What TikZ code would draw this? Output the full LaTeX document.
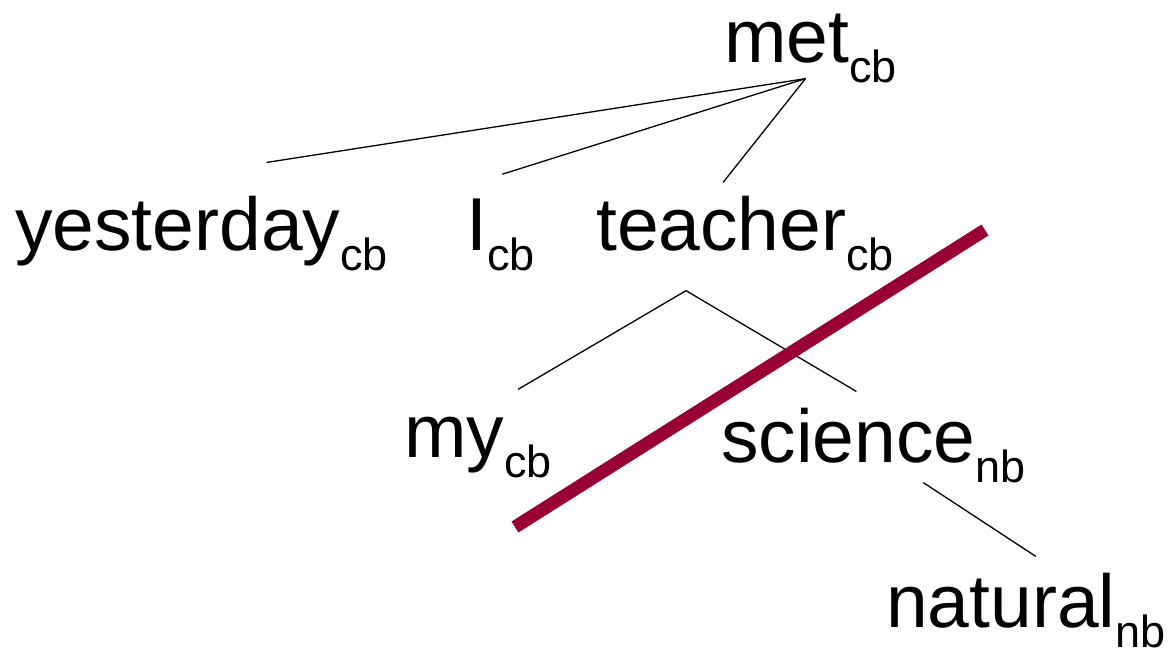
\documentclass[tikz,border=0pt]{standalone}
\usepackage{fontspec}
\setmainfont{Liberation Sans}
\usepackage{xcolor}
\usepackage{tikz}
\definecolor{cutred}{RGB}{153,0,51}
\newcommand*{\depword}[2]{#1\raisebox{-20pt}{\fontsize{45}{48}\selectfont #2}}
\tikzset{word/.style={anchor=base west,inner sep=0pt,font=\fontsize{75}{80}\selectfont},
  dep/.style={line width=1.3pt}}

\begin{document}
\begin{tikzpicture}[x=1pt,y=-1pt]
\useasboundingbox(0,0)rectangle(1173,657);

\node[word](met)at(724,62){\depword{met}{cb}};
\node[word](yest)at(15,250){\depword{yesterday}{cb}};
\node[word](I)at(466,250){\depword{I}{cb}};
\node[word](teach)at(596,250){\depword{teacher}{cb}};
\node[word](my)at(404,457){\depword{my}{cb}};
\node[word](sci)at(721,462){\depword{science}{nb}};
\node[word](nat)at(886,627){\depword{natural}{nb}};

\draw[dep]([xshift=-5,yshift=4]met.south)--([xshift=65,yshift=33]yest.north);
\draw[dep]([xshift=-5,yshift=4]met.south)--([xshift=2,yshift=24]I.north);
\draw[dep]([xshift=-5,yshift=4]met.south)--([xshift=-22,yshift=13]teach.north);
\draw[dep]([xshift=-59,yshift=-20]teach.south)--([xshift=40,yshift=27]my.north);
\draw[dep]([xshift=-59,yshift=-20]teach.south)--([xshift=-17,yshift=16]sci.north);
\draw[dep]([xshift=50,yshift=0]sci.south)--([xshift=10,yshift=16]nat.north);

\draw[cutred,line width=13pt](515,527)--(985,230);

\end{tikzpicture}
\end{document}
